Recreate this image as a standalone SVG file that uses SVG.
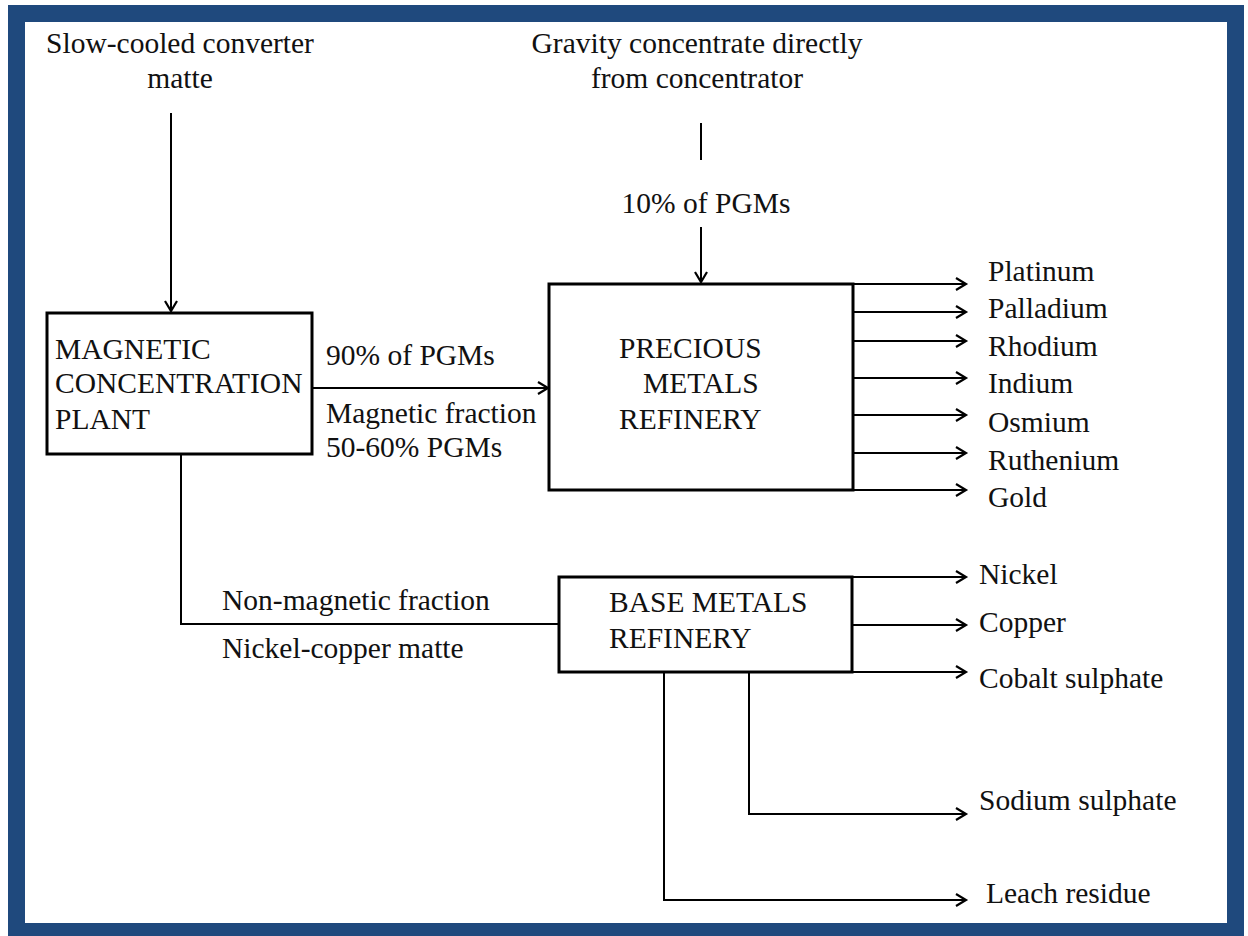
<svg xmlns="http://www.w3.org/2000/svg" width="1248" height="936" viewBox="0 0 1248 936">
<style>
text{font-family:"Liberation Serif","Times New Roman",serif;font-size:29.5px;fill:#111}
.c{text-anchor:middle}
.box{fill:#fff;stroke:#000;stroke-width:3}
.ln{fill:none;stroke:#000;stroke-width:2}
.ar{fill:none;stroke:#000;stroke-width:2;marker-end:url(#ah)}
</style>
<defs>
<marker id="ah" markerUnits="userSpaceOnUse" markerWidth="14" markerHeight="16" refX="11" refY="7" orient="auto">
<path d="M1,1 L11,7 L1,13" fill="none" stroke="#000" stroke-width="2.2"/>
</marker>
</defs>
<rect width="1248" height="936" fill="#fff"/>
<rect x="8" y="5" width="1236" height="931" fill="#1F497D"/>
<rect x="25" y="22" width="1202" height="901" fill="#fff"/>

<g id="connectors">
<line class="ar" x1="171" y1="113" x2="171" y2="311"/>
<line class="ln" x1="701" y1="123" x2="701" y2="160"/>
<line class="ar" x1="701" y1="227" x2="701" y2="282"/>
<line class="ar" x1="313" y1="388" x2="548" y2="388"/>
<polyline class="ln" points="181,455 181,624 558,624"/>
<line class="ar" x1="853" y1="284" x2="966" y2="284"/>
<line class="ar" x1="853" y1="312" x2="966" y2="312"/>
<line class="ar" x1="853" y1="341" x2="966" y2="341"/>
<line class="ar" x1="853" y1="378" x2="966" y2="378"/>
<line class="ar" x1="853" y1="415" x2="966" y2="415"/>
<line class="ar" x1="853" y1="453" x2="966" y2="453"/>
<line class="ar" x1="853" y1="490" x2="966" y2="490"/>
<line class="ar" x1="852" y1="577" x2="966" y2="577"/>
<line class="ar" x1="852" y1="625" x2="966" y2="625"/>
<line class="ar" x1="852" y1="672" x2="966" y2="672"/>
<polyline class="ar" points="749,672 749,814 966,814"/>
<polyline class="ar" points="664,672 664,900 966,900"/>
</g>

<g id="label-slow">
<text class="c" x="180" y="53">Slow-cooled converter</text>
<text class="c" x="180" y="88">matte</text>
</g>
<g id="label-gravity">
<text class="c" x="697" y="53">Gravity concentrate directly</text>
<text class="c" x="697" y="88">from concentrator</text>
<text class="c" x="706" y="213">10% of PGMs</text>
</g>

<g id="node-magnetic">
<rect class="box" x="47" y="313" width="265" height="141"/>
<text x="55" y="359">MAGNETIC</text>
<text x="55" y="393">CONCENTRATION</text>
<text x="55" y="429">PLANT</text>
</g>

<g id="label-magnetic-flow">
<text x="326" y="365">90% of PGMs</text>
<text x="326" y="423">Magnetic fraction</text>
<text x="326" y="457">50-60% PGMs</text>
</g>

<g id="node-precious">
<rect class="box" x="549" y="284" width="304" height="206"/>
<text x="619" y="358">PRECIOUS</text>
<text x="643" y="393">METALS</text>
<text x="619" y="429">REFINERY</text>
</g>

<g id="label-nonmagnetic">
<text x="222" y="610">Non-magnetic fraction</text>
<text x="222" y="658">Nickel-copper matte</text>
</g>

<g id="node-base">
<rect class="box" x="559" y="577" width="293" height="95"/>
<text x="609" y="612">BASE METALS</text>
<text x="609" y="648">REFINERY</text>
</g>

<g id="outputs-precious">
<text x="988" y="281">Platinum</text>
<text x="988" y="318">Palladium</text>
<text x="988" y="356">Rhodium</text>
<text x="988" y="393">Indium</text>
<text x="988" y="432">Osmium</text>
<text x="988" y="470">Ruthenium</text>
<text x="988" y="507">Gold</text>
</g>

<g id="outputs-base">
<text x="979" y="584">Nickel</text>
<text x="979" y="632">Copper</text>
<text x="979" y="688">Cobalt sulphate</text>
<text x="979" y="810">Sodium sulphate</text>
<text x="986" y="903">Leach residue</text>
</g>
</svg>
